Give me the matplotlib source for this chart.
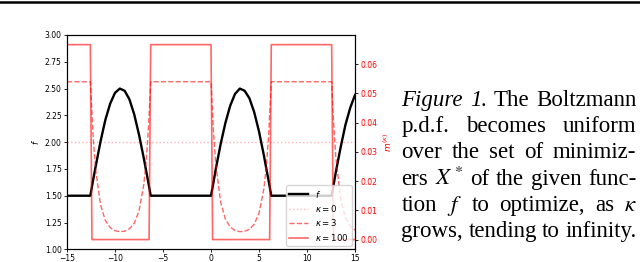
import numpy as np
import matplotlib
matplotlib.use("Agg")
from matplotlib import pyplot as plt
from matplotlib.lines import Line2D

# sampled x positions (flat parts only need end points)
x_vals = [-15,
          -12.57, -12.25, -12, -11.5, -11, -10.5, -10, -9.5, -9, -8.5, -8, -7.5, -7, -6.75, -6.5, -6.28,
          0, 0.25, 0.5, 1, 1.5, 2, 2.5, 3, 3.5, 4, 4.5, 5, 5.5, 5.75, 6, 6.28,
          12.57, 12.75, 13, 13.5, 14, 14.5, 15]

f_vals = [1.5,
          1.5, 1.66, 1.78, 2.01, 2.21, 2.36, 2.46, 2.50, 2.48, 2.40, 2.26, 2.07, 1.85, 1.73, 1.61, 1.5,
          1.5, 1.62, 1.75, 1.98, 2.18, 2.34, 2.45, 2.50, 2.48, 2.41, 2.28, 2.10, 1.88, 1.76, 1.64, 1.5,
          1.5, 1.59, 1.72, 1.95, 2.16, 2.32, 2.44]

m3_vals = [0.054,
           0.054, 0.0337, 0.0234, 0.0118, 0.00648, 0.00410, 0.00304, 0.00269, 0.00287, 0.00368, 0.00556,
           0.00972, 0.0188, 0.0270, 0.0390, 0.054,
           0.054, 0.0372, 0.0258, 0.0129, 0.00697, 0.00433, 0.00313, 0.00271, 0.00282, 0.00353, 0.00523,
           0.00896, 0.0172, 0.0244, 0.0354, 0.054,
           0.054, 0.0410, 0.0283, 0.0140, 0.00751, 0.00457, 0.00324]

x0_vals = [-15, 15]
m0_vals = [0.0333, 0.0333]

x100_vals = [-15, -12.57, -12.4, -6.45, -6.28, 0, 0.17, 6.11, 6.28, 12.57, 12.74, 15]
m100_vals = [0.0667, 0.0667, 0, 0, 0.0667, 0.0667, 0, 0, 0.0667, 0.0667, 0, 0]

caption_lines = [
    [("Figure", 'italic'), ("1.", 'italic'), ("The", 'normal'), ("Boltzmann", 'normal')],
    [("p.d.f.", 'normal'), ("becomes", 'normal'), ("uniform", 'normal')],
    [("over", 'normal'), ("the", 'normal'), ("set", 'normal'), ("of", 'normal'), ("minimiz-", 'normal')],
    [("ers", 'normal'), ("$X^*$", 'normal'), ("of", 'normal'), ("the", 'normal'), ("given", 'normal'),
     ("func-", 'normal')],
    [("tion", 'normal'), ("$f$", 'normal'), ("to", 'normal'), ("optimize,", 'normal'), ("as", 'normal'),
     ("$\\kappa$", 'normal')],
    [("grows,", 'normal'), ("tending", 'normal'), ("to", 'normal'), ("infinity.", 'normal')],
]

W, H = 640, 262
fig = plt.figure(figsize=(W / 100, H / 100), dpi=100)
ax = fig.add_axes([67 / W, 1 - 249.3 / H, (355 - 67) / W, (249.3 - 35) / H])
ax2 = ax.twinx()

lf, = ax.plot(x_vals, f_vals, color='black', linewidth=1.7, label='$f$')
l0, = ax2.plot(x0_vals, m0_vals, ':', color='red', alpha=0.3, linewidth=1.0, label='$\\kappa = 0$')
l3, = ax2.plot(x_vals, m3_vals, '--', color='red', alpha=0.6, linewidth=1.0, label='$\\kappa = 3$')
l100, = ax2.plot(x100_vals, m100_vals, '-', color='red', alpha=0.6, linewidth=1.2, label='$\\kappa = 100$')

ax.set_xlim(-15, 15)
ax.set_ylim(1.0, 3.0)
ax.set_yticks([1.0, 1.25, 1.5, 1.75, 2.0, 2.25, 2.5, 2.75, 3.0])
ax.set_xticks([-15, -10, -5, 0, 5, 10, 15])
ax.set_ylabel('$f$', fontsize=6, labelpad=3)
ax.tick_params(labelsize=5.5, length=2.5, width=0.6, pad=1.2)

ax2.set_ylim(-0.00333, 0.070)
ax2.set_yticks([0, 0.01, 0.02, 0.03, 0.04, 0.05, 0.06])
ax2.set_ylabel('$m^{(\\kappa)}$', fontsize=6.5, color='red', labelpad=3)
ax2.tick_params(labelsize=5.5, length=2.5, width=0.6, pad=1.5, labelcolor='red')

ax2.legend(handles=[lf, l0, l3, l100], loc='lower right', fontsize=6.2, framealpha=0.8,
           borderaxespad=0.4, labelspacing=0.4, handlelength=2.2, borderpad=0.35)

# page rule at the top
fig.add_artist(Line2D([0, 1], [1 - 1.5 / H, 1 - 1.5 / H], color='black', linewidth=1.8,
                      transform=fig.transFigure))

# justified caption
renderer = fig.canvas.get_renderer()
x_left, x_right = 401.5, 636.5
y_first, dy = 106.0, 26.2
fs = 16.5
for i, words in enumerate(caption_lines):
    y = 1 - (y_first + i * dy) / H
    texts = [fig.text(0, y, w, fontsize=fs, family='Liberation Serif', style=st, va='baseline',
                      math_fontfamily='stix')
             for w, st in words]
    widths = [t.get_window_extent(renderer).width for t in texts]
    gap = (x_right - x_left - sum(widths)) / (len(texts) - 1)
    xp = x_left
    for t, wd in zip(texts, widths):
        t.set_x(xp / W)
        xp += wd + gap

fig.savefig('out.png', dpi=100)
